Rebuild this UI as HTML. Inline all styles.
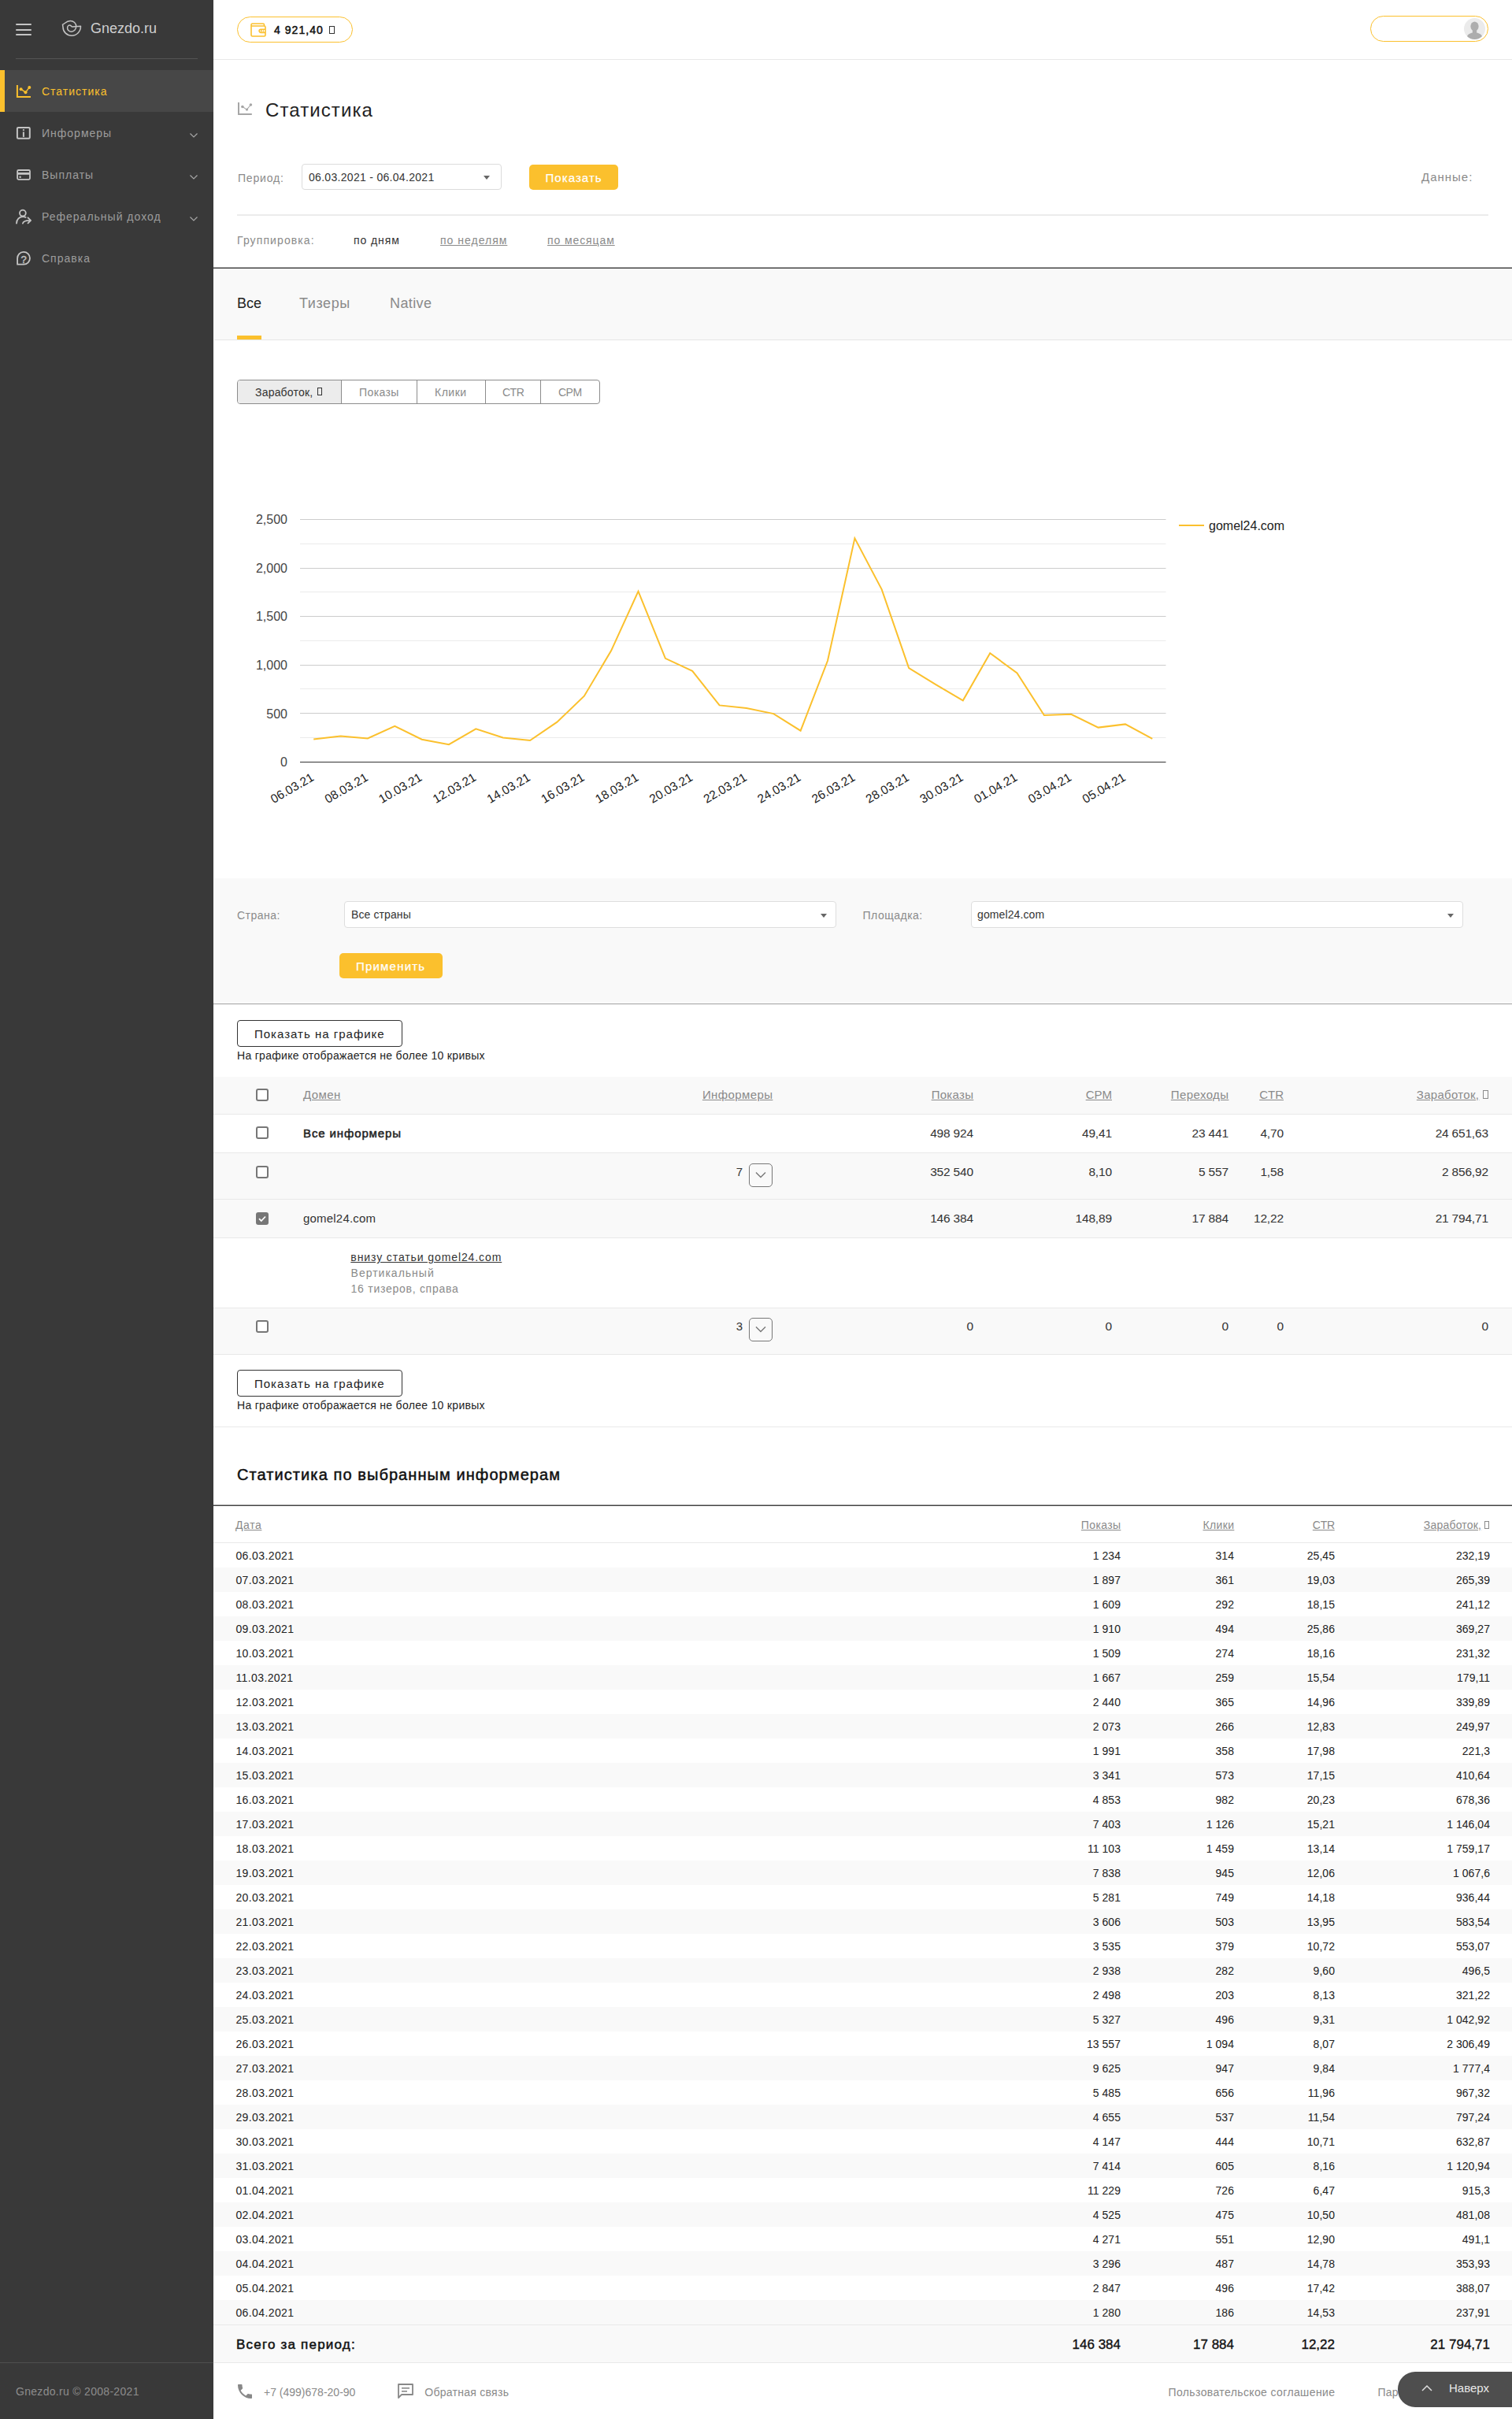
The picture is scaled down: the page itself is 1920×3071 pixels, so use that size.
<!DOCTYPE html>
<html><head><meta charset="utf-8">
<style>
*{box-sizing:border-box;margin:0;padding:0}
html,body{width:1920px;height:3071px;overflow:hidden;background:#fff;font-family:"Liberation Sans",sans-serif;color:#222}
.a{position:absolute;white-space:nowrap}
#sb{position:absolute;left:0;top:0;width:271px;height:3071px;background:#393939}
#main{position:absolute;left:271px;top:0;width:1649px;height:3071px;background:#fff}
.mi{position:absolute;left:0;width:271px;height:53px}
.mi .t{position:absolute;left:53px;top:1px;line-height:53px;font-size:14px;letter-spacing:1px;color:#9d9d9d}
.mi svg{position:absolute}
.chev{position:absolute;left:241px;width:10px;height:6px;margin-top:2px}
.lbl{color:#8a8a8a}
.und{text-decoration:underline}
</style></head><body>
<div id="sb">
  <!-- hamburger -->
  <div class="a" style="left:20px;top:30px;width:20px;height:2.2px;background:#c4c4c4;border-radius:1px"></div>
  <div class="a" style="left:20px;top:36.5px;width:20px;height:2.2px;background:#c4c4c4;border-radius:1px"></div>
  <div class="a" style="left:20px;top:42.7px;width:20px;height:2.2px;background:#c4c4c4;border-radius:1px"></div>
  <!-- logo -->
  <svg class="a" style="left:70px;top:18px" width="40" height="36" viewBox="0 0 40 36"><path d="M9.5 13.2 C12 12.5 14 8.5 19.3 8.5 C23.5 8.5 26.7 11.5 26.7 15.5 C26.7 19.5 23.8 22.2 20.6 22.2 C17.8 22.2 15.6 20 15.6 17.5 C15.6 15.5 17 14 18.5 14 C20 14 20.8 15.9 21.7 15.9 L32.5 15.3 C32.5 22 27.5 27.2 21.2 27.2 C15 27.2 10 22.5 10 16.4 Z" fill="none" stroke="#c4c4c4" stroke-width="1.5" stroke-linejoin="round"/></svg>
  <div class="a" style="left:115px;top:24px;font-size:18px;line-height:24px;color:#cfcfcf;letter-spacing:0px">Gnezdo.ru</div>
  <div class="a" style="left:20px;top:74px;width:231px;height:1px;background:#555"></div>

  <div class="mi" style="top:89px;background:#474747">
    <div class="a" style="left:0;top:0;width:6px;height:53px;background:#fbc02d"></div>
    
    <div class="t" style="color:#fbc02d">Статистика</div>
  </div>
  <div class="mi" style="top:142px">
    
    <div class="t">Информеры</div>
    <svg class="chev" style="top:25px" viewBox="0 0 10 6"><path d="M0.5 0.5 L5 5 L9.5 0.5" fill="none" stroke="#a8a8a8" stroke-width="1.15"/></svg>
  </div>
  <div class="mi" style="top:195px">
    
    <div class="t">Выплаты</div>
    <svg class="chev" style="top:25px" viewBox="0 0 10 6"><path d="M0.5 0.5 L5 5 L9.5 0.5" fill="none" stroke="#a8a8a8" stroke-width="1.15"/></svg>
  </div>
  <div class="mi" style="top:248px">
    
    <div class="t">Реферальный доход</div>
    <svg class="chev" style="top:25px" viewBox="0 0 10 6"><path d="M0.5 0.5 L5 5 L9.5 0.5" fill="none" stroke="#a8a8a8" stroke-width="1.15"/></svg>
  </div>
  <div class="mi" style="top:301px">
    
    <div class="t">Справка</div>
  </div>


  <svg class="a" style="left:14px;top:100px" width="30" height="30" viewBox="14 100 30 30"><path d="M21.9 107.9 V122.9 H39" fill="none" stroke="#fbc02d" stroke-width="2"/><polyline points="26.6,113.2 32.5,117.2 37.3,110.9" fill="none" stroke="#fbc02d" stroke-width="1.4"/><circle cx="26.6" cy="113.2" r="2" fill="#fbc02d"/><circle cx="32.5" cy="117.2" r="2" fill="#fbc02d"/><circle cx="37.3" cy="110.9" r="2" fill="#fbc02d"/></svg>
  <svg class="a" style="left:14px;top:150px" width="30" height="30" viewBox="14 150 30 30"><rect x="21.9" y="162" width="15.9" height="13.7" rx="1.3" fill="none" stroke="#c4c4c4" stroke-width="2"/><rect x="28.9" y="164.1" width="2" height="1.8" fill="#c4c4c4"/><rect x="28.9" y="167.4" width="2" height="6.5" fill="#c4c4c4"/></svg>
  <svg class="a" style="left:14px;top:205px" width="30" height="30" viewBox="14 205 30 30"><rect x="22.1" y="216" width="15.9" height="11.8" rx="1.5" fill="none" stroke="#c4c4c4" stroke-width="1.8"/><rect x="22" y="219" width="16" height="2.8" fill="#c4c4c4"/><circle cx="25.6" cy="224.7" r="1.2" fill="#c4c4c4"/></svg>
  <svg class="a" style="left:14px;top:258px" width="30" height="30" viewBox="14 258 30 30"><circle cx="28.9" cy="270.6" r="3.9" fill="none" stroke="#c4c4c4" stroke-width="1.8"/><path d="M21 283.6 C21 278.3 24.6 275.2 29.3 275.2 C30.6 275.2 31.6 275.4 32.6 275.8" fill="none" stroke="#c4c4c4" stroke-width="1.8" stroke-linecap="round"/><path d="M28.9 283.6 C29.6 280.6 33.2 279.6 38.6 279.8 M35.5 276.3 L39.1 279.8 L35.5 283.3" fill="none" stroke="#c4c4c4" stroke-width="1.8" stroke-linecap="round" stroke-linejoin="round"/></svg>
  <svg class="a" style="left:14px;top:312px" width="30" height="30" viewBox="14 312 30 30"><path d="M22.1 335.7 V328 A7.95 7.95 0 1 1 30.05 335.7 Z" fill="none" stroke="#c4c4c4" stroke-width="1.8" stroke-linejoin="round"/><text x="30.1" y="333.6" font-size="13" text-anchor="middle" fill="#c4c4c4" stroke="#c4c4c4" stroke-width="0.4" font-family="Liberation Sans">?</text></svg>
  <div class="a" style="left:0;top:2999px;width:271px;height:1px;background:#4f4f4f"></div>
  <div class="a" style="left:20px;top:3027px;font-size:14px;line-height:18px;color:#8d8d8d;letter-spacing:0.3px">Gnezdo.ru © 2008-2021</div>
</div>

<div id="main">
  <!-- header -->
  <div class="a" style="left:30px;top:21px;width:147px;height:33px;border:1px solid #fbc02d;border-radius:17px"></div>
  <svg class="a" style="left:47px;top:29px" width="20" height="18" viewBox="0 0 20 18"><path d="M2.5 1 H16 A1.5 1.5 0 0 1 17.5 2.5 V3.5 M1 4 H17.5 A1.5 1.5 0 0 1 19 5.5 V15.5 A1.5 1.5 0 0 1 17.5 17 H2.5 A1.5 1.5 0 0 1 1 15.5 V2.5 A1.5 1.5 0 0 1 2.5 1" fill="none" stroke="#fbc02d" stroke-width="1.6"/><path d="M19 8.2 H13.2 A2.1 2.1 0 0 0 13.2 12.4 H19" fill="none" stroke="#fbc02d" stroke-width="1.6"/><circle cx="13.9" cy="10.3" r="0.9" fill="none" stroke="#fbc02d" stroke-width="1"/><rect x="16" y="9.3" width="1" height="2" fill="#fbc02d"/></svg>
  <div class="a" style="left:77px;top:30px;font-size:14px;line-height:16px;letter-spacing:1.05px;color:#111;-webkit-text-stroke:0.5px #111">4 921,40</div>
  <div class="a" style="left:147px;top:33px;width:7px;height:10px;border:1px solid #333"></div>

  <div class="a" style="left:1469px;top:20px;width:150px;height:33px;border:1px solid #fbc02d;border-radius:17px"></div>
  <svg class="a" style="left:1588px;top:23px" width="27" height="27" viewBox="0 0 27 27"><defs><clipPath id="av"><circle cx="13.5" cy="13.5" r="13.5"/></clipPath></defs><circle cx="13.5" cy="13.5" r="13.5" fill="#ebebeb"/><g clip-path="url(#av)" fill="#adadad"><ellipse cx="13.5" cy="10.6" rx="5.1" ry="6"/><rect x="10.8" y="13" width="5.4" height="7"/><ellipse cx="13.5" cy="25" rx="10.2" ry="6.8"/></g></svg>
  <div class="a" style="left:0;top:75px;width:1649px;height:1px;background:#e8e8e8"></div>

  <!-- title -->
  <svg class="a" style="left:25px;top:124px" width="30" height="28" viewBox="296 124 30 28"><path d="M303 130 V144.9 H319.8" fill="none" stroke="#a6a6a6" stroke-width="2"/><polyline points="307.9,135.5 313.5,139.1 318.4,133" fill="none" stroke="#a6a6a6" stroke-width="1.1"/><circle cx="307.9" cy="135.5" r="1.8" fill="#a6a6a6"/><circle cx="313.5" cy="139.1" r="1.6" fill="#a6a6a6"/><circle cx="318.4" cy="133" r="1.8" fill="#a6a6a6"/></svg>
  <div class="a" style="left:66px;top:125.5px;font-size:24px;line-height:28px;letter-spacing:1.1px;color:#222">Статистика</div>

  <!-- period -->
  <div class="a lbl" style="left:31px;top:217px;font-size:14px;line-height:18px;letter-spacing:0.8px">Период:</div>
  <div class="a" style="left:112px;top:208px;width:254px;height:33px;border:1px solid #dcdcdc;border-radius:4px;background:#fff"></div>
  <div class="a" style="left:121px;top:216px;font-size:14px;line-height:18px;letter-spacing:0.3px;color:#333">06.03.2021 - 06.04.2021</div>
  <div class="a" style="left:343px;top:223px;width:0;height:0;border-left:4.5px solid transparent;border-right:4.5px solid transparent;border-top:5px solid #666"></div>
  <div class="a" style="left:401px;top:209px;width:113px;height:32px;border-radius:5px;background:#fbc02d"></div>
  <div class="a" style="left:421.5px;top:216.5px;font-size:15px;line-height:18px;letter-spacing:1.05px;color:#fff;-webkit-text-stroke:0.25px #fff">Показать</div>
  <div class="a lbl" style="left:1534px;top:216px;font-size:15px;line-height:18px;letter-spacing:1px">Данные:</div>
  <div class="a" style="left:30px;top:272px;width:1589px;height:2px;background:#ececec"></div>

  <!-- grouping -->
  <div class="a lbl" style="left:30px;top:296px;font-size:14px;line-height:18px;letter-spacing:1.1px">Группировка:</div>
  <div class="a" style="left:178px;top:296px;font-size:14px;line-height:18px;letter-spacing:0.9px;color:#333">по дням</div>
  <div class="a lbl und" style="left:288px;top:296px;font-size:14px;line-height:18px;letter-spacing:1px">по неделям</div>
  <div class="a lbl und" style="left:424px;top:296px;font-size:14px;line-height:18px;letter-spacing:0.9px">по месяцам</div>

  <div class="a" style="left:0;top:339px;width:1649px;height:1px;background:#a0a0a0"></div><div class="a" style="left:0;top:340px;width:1649px;height:1px;background:#444"></div>

  <!-- tabs -->
  <div class="a" style="left:1px;top:342px;width:1648px;height:90px;background:#f9f9f9;border-bottom:1px solid #e6e6e6"></div>
  <div class="a" style="left:30px;top:374px;font-size:18px;line-height:22px;color:#222">Все</div>
  <div class="a" style="left:109px;top:374px;font-size:18px;line-height:22px;letter-spacing:0.6px;color:#8a8a8a">Тизеры</div>
  <div class="a" style="left:224px;top:374px;font-size:18px;line-height:22px;letter-spacing:0.4px;color:#8a8a8a">Native</div>
  <div class="a" style="left:30px;top:426px;width:31px;height:5px;background:#fbc02d"></div>

  <!-- metric buttons -->
  <div class="a" style="left:30px;top:482px;width:461px;height:31px;border:1px solid #8c8c8c;border-radius:4px;overflow:hidden">
    <div class="a" style="left:0;top:0;width:132px;height:29px;background:#ececec;border-right:1px solid #8c8c8c"></div>
    <div class="a" style="left:227px;top:0;width:1px;height:29px;background:#8c8c8c"></div>
    <div class="a" style="left:314px;top:0;width:1px;height:29px;background:#8c8c8c"></div>
    <div class="a" style="left:384px;top:0;width:1px;height:29px;background:#8c8c8c"></div>
  </div>
  <div class="a" style="left:53px;top:489px;font-size:14px;line-height:18px;letter-spacing:0.2px;color:#333">Заработок,</div>
  <div class="a" style="left:132px;top:492px;width:6px;height:10px;border:1px solid #333"></div>
  <div class="a" style="left:185px;top:489px;font-size:14px;line-height:18px;letter-spacing:0.4px;color:#8a8a8a">Показы</div>
  <div class="a" style="left:281px;top:489px;font-size:14px;line-height:18px;letter-spacing:0.5px;color:#8a8a8a">Клики</div>
  <div class="a" style="left:367px;top:489px;font-size:14px;line-height:18px;letter-spacing:-0.5px;color:#8a8a8a">CTR</div>
  <div class="a" style="left:438px;top:489px;font-size:14px;line-height:18px;letter-spacing:-0.5px;color:#8a8a8a">CPM</div>

<svg class="a" style="left:-271px;top:0" width="1920" height="1100" viewBox="0 0 1920 1100" font-family="Liberation Sans">
<rect x="381" y="936" width="1099.5" height="1" fill="#ebebeb"/>
<rect x="381" y="874" width="1099.5" height="1" fill="#ebebeb"/>
<rect x="381" y="813" width="1099.5" height="1" fill="#ebebeb"/>
<rect x="381" y="751" width="1099.5" height="1" fill="#ebebeb"/>
<rect x="381" y="690" width="1099.5" height="1" fill="#ebebeb"/>
<rect x="381" y="905" width="1099.5" height="1" fill="#cccccc"/>
<rect x="381" y="844" width="1099.5" height="1" fill="#cccccc"/>
<rect x="381" y="782" width="1099.5" height="1" fill="#cccccc"/>
<rect x="381" y="721" width="1099.5" height="1" fill="#cccccc"/>
<rect x="381" y="659" width="1099.5" height="1" fill="#cccccc"/>
<rect x="381" y="967" width="1099.5" height="1" fill="#333333"/>
<text x="365" y="973.0" font-size="16" text-anchor="end" fill="#444444">0</text>
<text x="365" y="911.5" font-size="16" text-anchor="end" fill="#444444">500</text>
<text x="365" y="849.9" font-size="16" text-anchor="end" fill="#444444">1,000</text>
<text x="365" y="788.4" font-size="16" text-anchor="end" fill="#444444">1,500</text>
<text x="365" y="726.8" font-size="16" text-anchor="end" fill="#444444">2,000</text>
<text x="365" y="665.3" font-size="16" text-anchor="end" fill="#444444">2,500</text>
<polyline points="398.2,938.6 432.5,934.5 466.9,937.5 501.3,921.8 535.6,938.7 570.0,945.2 604.3,925.4 638.7,936.4 673.1,940.0 707.4,916.7 741.8,883.7 776.1,826.1 810.5,750.7 844.9,835.8 879.2,851.9 913.6,895.4 947.9,899.1 982.3,906.1 1016.6,927.7 1051.0,838.8 1085.4,683.3 1119.7,748.4 1154.1,848.1 1188.4,869.1 1222.8,889.3 1257.2,829.2 1291.5,854.5 1325.9,908.0 1360.2,906.8 1394.6,923.6 1429.0,919.4 1463.3,937.9" fill="none" stroke="#fbc02d" stroke-width="2" stroke-linejoin="miter" stroke-miterlimit="10"/>
<text x="399.7" y="990" font-size="15.5" text-anchor="end" fill="#222222" transform="rotate(-30 399.7 990)">06.03.21</text>
<text x="468.4" y="990" font-size="15.5" text-anchor="end" fill="#222222" transform="rotate(-30 468.4 990)">08.03.21</text>
<text x="537.1" y="990" font-size="15.5" text-anchor="end" fill="#222222" transform="rotate(-30 537.1 990)">10.03.21</text>
<text x="605.8" y="990" font-size="15.5" text-anchor="end" fill="#222222" transform="rotate(-30 605.8 990)">12.03.21</text>
<text x="674.6" y="990" font-size="15.5" text-anchor="end" fill="#222222" transform="rotate(-30 674.6 990)">14.03.21</text>
<text x="743.3" y="990" font-size="15.5" text-anchor="end" fill="#222222" transform="rotate(-30 743.3 990)">16.03.21</text>
<text x="812.0" y="990" font-size="15.5" text-anchor="end" fill="#222222" transform="rotate(-30 812.0 990)">18.03.21</text>
<text x="880.7" y="990" font-size="15.5" text-anchor="end" fill="#222222" transform="rotate(-30 880.7 990)">20.03.21</text>
<text x="949.4" y="990" font-size="15.5" text-anchor="end" fill="#222222" transform="rotate(-30 949.4 990)">22.03.21</text>
<text x="1018.1" y="990" font-size="15.5" text-anchor="end" fill="#222222" transform="rotate(-30 1018.1 990)">24.03.21</text>
<text x="1086.9" y="990" font-size="15.5" text-anchor="end" fill="#222222" transform="rotate(-30 1086.9 990)">26.03.21</text>
<text x="1155.6" y="990" font-size="15.5" text-anchor="end" fill="#222222" transform="rotate(-30 1155.6 990)">28.03.21</text>
<text x="1224.3" y="990" font-size="15.5" text-anchor="end" fill="#222222" transform="rotate(-30 1224.3 990)">30.03.21</text>
<text x="1293.0" y="990" font-size="15.5" text-anchor="end" fill="#222222" transform="rotate(-30 1293.0 990)">01.04.21</text>
<text x="1361.7" y="990" font-size="15.5" text-anchor="end" fill="#222222" transform="rotate(-30 1361.7 990)">03.04.21</text>
<text x="1430.5" y="990" font-size="15.5" text-anchor="end" fill="#222222" transform="rotate(-30 1430.5 990)">05.04.21</text>
<rect x="1497" y="666" width="32" height="2" fill="#fbc02d"/>
<text x="1535" y="673" font-size="16" fill="#222222">gomel24.com</text>
</svg>
<div class="a" style="left:1px;top:1115px;width:1648px;height:158px;background:#f9f9f9"></div>
<div class="a" style="left:0px;top:1274px;width:1649px;height:1px;background:#9f9f9f"></div>
<div class="a" style="left:30.00px;top:1153.45px;font-size:14px;line-height:18px;color:#8a8a8a;letter-spacing:0.5px;">Страна:</div>
<div class="a" style="left:166px;top:1144px;width:625px;height:34px;background:#fff;border:1px solid #dedede;border-radius:4px"></div>
<div class="a" style="left:175.00px;top:1151.95px;font-size:14px;line-height:18px;color:#333;letter-spacing:0.1px;">Все страны</div>
<div class="a" style="left:771px;top:1160px;width:0px;height:0px;border-left:4.5px solid transparent;border-right:4.5px solid transparent;border-top:5px solid #666"></div>
<div class="a" style="left:824.50px;top:1153.45px;font-size:14px;line-height:18px;color:#8a8a8a;letter-spacing:0.5px;">Площадка:</div>
<div class="a" style="left:962px;top:1144px;width:625px;height:34px;background:#fff;border:1px solid #dedede;border-radius:4px"></div>
<div class="a" style="left:970.00px;top:1151.95px;font-size:14px;line-height:18px;color:#333;letter-spacing:0.1px;">gomel24.com</div>
<div class="a" style="left:1567px;top:1160px;width:0px;height:0px;border-left:4.5px solid transparent;border-right:4.5px solid transparent;border-top:5px solid #666"></div>
<div class="a" style="left:160px;top:1210px;width:131px;height:32px;background:#fbc02d;border-radius:5px"></div>
<div class="a" style="left:181.00px;top:1217.00px;font-size:15px;line-height:20px;color:#fff;letter-spacing:1.2px;-webkit-text-stroke:0.25px #fff">Применить</div>
<div class="a" style="left:30px;top:1295px;width:210px;height:34px;border:1.5px solid #333;border-radius:4px;background:#fff"></div>
<div class="a" style="left:52.00px;top:1302.80px;font-size:15px;line-height:20px;color:#222;letter-spacing:1.0px;">Показать на графике</div>
<div class="a" style="left:30.00px;top:1330.55px;font-size:14px;line-height:18px;color:#222;letter-spacing:0.3px;">На графике отображается не более 10 кривых</div>
<div class="a" style="left:0px;top:1367px;width:1649px;height:47px;background:#f9f9f9"></div>
<div class="a" style="left:0px;top:1414px;width:1649px;height:1px;background:#e9e9e9"></div>
<div class="a" style="left:54px;top:1382px;width:16px;height:16px;border:2px solid #777;border-radius:3px;background:#fff"></div>
<div class="a" style="left:114.00px;top:1379.80px;font-size:15px;line-height:20px;color:#8a8a8a;letter-spacing:0.4px;text-decoration:underline">Домен</div>
<div class="a" style="right:939.00px;top:1379.80px;font-size:15px;line-height:20px;color:#8a8a8a;letter-spacing:0.4px;margin-right:-0.4px;text-decoration:underline">Информеры</div>
<div class="a" style="right:684.00px;top:1379.80px;font-size:15px;line-height:20px;color:#8a8a8a;letter-spacing:0.3px;margin-right:-0.3px;text-decoration:underline">Показы</div>
<div class="a" style="right:508.00px;top:1379.80px;font-size:15px;line-height:20px;color:#8a8a8a;text-decoration:underline">CPM</div>
<div class="a" style="right:360.00px;top:1379.80px;font-size:15px;line-height:20px;color:#8a8a8a;letter-spacing:0.4px;margin-right:-0.4px;text-decoration:underline">Переходы</div>
<div class="a" style="right:290.00px;top:1379.80px;font-size:15px;line-height:20px;color:#8a8a8a;text-decoration:underline">CTR</div>
<div class="a" style="right:42.00px;top:1379.80px;font-size:15px;line-height:20px;color:#8a8a8a;letter-spacing:0.3px;margin-right:-0.3px;text-decoration:underline">Заработок,</div>
<div class="a" style="left:1612px;top:1384px;width:7px;height:11px;border:1px solid #8a8a8a"></div>
<div class="a" style="left:54px;top:1430px;width:16px;height:16px;border:2px solid #777;border-radius:3px;background:#fff"></div>
<div class="a" style="left:114.00px;top:1428.80px;font-size:15px;line-height:20px;color:#222;letter-spacing:0.88px;-webkit-text-stroke:0.5px #222">Все информеры</div>
<div class="a" style="right:684.00px;top:1428.63px;font-size:15.5px;line-height:20px;color:#333;letter-spacing:-0.2px;margin-right:0.2px;">498 924</div>
<div class="a" style="right:508.00px;top:1428.63px;font-size:15.5px;line-height:20px;color:#333;letter-spacing:-0.2px;margin-right:0.2px;">49,41</div>
<div class="a" style="right:360.00px;top:1428.63px;font-size:15.5px;line-height:20px;color:#333;letter-spacing:-0.2px;margin-right:0.2px;">23 441</div>
<div class="a" style="right:290.00px;top:1428.63px;font-size:15.5px;line-height:20px;color:#333;letter-spacing:-0.2px;margin-right:0.2px;">4,70</div>
<div class="a" style="right:30.00px;top:1428.63px;font-size:15.5px;line-height:20px;color:#333;letter-spacing:-0.2px;margin-right:0.2px;">24 651,63</div>
<div class="a" style="left:0px;top:1463px;width:1649px;height:1px;background:#e9e9e9"></div>
<div class="a" style="left:0px;top:1464px;width:1649px;height:58px;background:#f9f9f9"></div>
<div class="a" style="left:54px;top:1480px;width:16px;height:16px;border:2px solid #777;border-radius:3px;background:#fff"></div>
<div class="a" style="right:977.00px;top:1477.50px;font-size:15px;line-height:20px;color:#333;">7</div>
<div class="a" style="left:680px;top:1477px;width:30px;height:30px;border:1.5px solid #777;border-radius:5px"></div><svg class="a" style="left:680px;top:1477px" width="30" height="30" viewBox="0 0 30 30"><path d="M9 11.5 L15 17.5 L21 11.5" fill="none" stroke="#777" stroke-width="1.4"/></svg>
<div class="a" style="right:684.00px;top:1477.63px;font-size:15.5px;line-height:20px;color:#333;letter-spacing:-0.2px;margin-right:0.2px;">352 540</div>
<div class="a" style="right:508.00px;top:1477.63px;font-size:15.5px;line-height:20px;color:#333;letter-spacing:-0.2px;margin-right:0.2px;">8,10</div>
<div class="a" style="right:360.00px;top:1477.63px;font-size:15.5px;line-height:20px;color:#333;letter-spacing:-0.2px;margin-right:0.2px;">5 557</div>
<div class="a" style="right:290.00px;top:1477.63px;font-size:15.5px;line-height:20px;color:#333;letter-spacing:-0.2px;margin-right:0.2px;">1,58</div>
<div class="a" style="right:30.00px;top:1477.63px;font-size:15.5px;line-height:20px;color:#333;letter-spacing:-0.2px;margin-right:0.2px;">2 856,92</div>
<div class="a" style="left:0px;top:1522px;width:1649px;height:1px;background:#e9e9e9"></div>
<div class="a" style="left:0px;top:1523px;width:1649px;height:48px;background:#f9f9f9"></div>
<div class="a" style="left:54px;top:1539px;width:16px;height:16px;background:#777;border-radius:3px"></div><svg class="a" style="left:54px;top:1539px" width="16" height="16" viewBox="0 0 16 16"><path d="M4 8.2 L6.8 11 L12 5.5" fill="none" stroke="#fff" stroke-width="1.8"/></svg>
<div class="a" style="left:114.00px;top:1536.80px;font-size:15px;line-height:20px;color:#333;letter-spacing:0.2px;">gomel24.com</div>
<div class="a" style="right:684.00px;top:1536.63px;font-size:15.5px;line-height:20px;color:#333;letter-spacing:-0.2px;margin-right:0.2px;">146 384</div>
<div class="a" style="right:508.00px;top:1536.63px;font-size:15.5px;line-height:20px;color:#333;letter-spacing:-0.2px;margin-right:0.2px;">148,89</div>
<div class="a" style="right:360.00px;top:1536.63px;font-size:15.5px;line-height:20px;color:#333;letter-spacing:-0.2px;margin-right:0.2px;">17 884</div>
<div class="a" style="right:290.00px;top:1536.63px;font-size:15.5px;line-height:20px;color:#333;letter-spacing:-0.2px;margin-right:0.2px;">12,22</div>
<div class="a" style="right:30.00px;top:1536.63px;font-size:15.5px;line-height:20px;color:#333;letter-spacing:-0.2px;margin-right:0.2px;">21 794,71</div>
<div class="a" style="left:0px;top:1571px;width:1649px;height:1px;background:#e9e9e9"></div>
<div class="a" style="left:174.30px;top:1587.15px;font-size:14px;line-height:18px;color:#333;letter-spacing:0.9px;text-decoration:underline">внизу статьи gomel24.com</div>
<div class="a" style="left:174.60px;top:1606.75px;font-size:14px;line-height:18px;color:#8a8a8a;letter-spacing:1.0px;">Вертикальный</div>
<div class="a" style="left:174.60px;top:1626.55px;font-size:14px;line-height:18px;color:#8a8a8a;letter-spacing:0.73px;">16 тизеров, справа</div>
<div class="a" style="left:0px;top:1660px;width:1649px;height:1px;background:#e9e9e9"></div>
<div class="a" style="left:0px;top:1661px;width:1649px;height:58px;background:#f9f9f9"></div>
<div class="a" style="left:54px;top:1676px;width:16px;height:16px;border:2px solid #777;border-radius:3px;background:#fff"></div>
<div class="a" style="right:977.00px;top:1673.80px;font-size:15px;line-height:20px;color:#333;">3</div>
<div class="a" style="left:680px;top:1673px;width:30px;height:30px;border:1.5px solid #777;border-radius:5px"></div><svg class="a" style="left:680px;top:1673px" width="30" height="30" viewBox="0 0 30 30"><path d="M9 11.5 L15 17.5 L21 11.5" fill="none" stroke="#777" stroke-width="1.4"/></svg>
<div class="a" style="right:684.00px;top:1674.13px;font-size:15.5px;line-height:20px;color:#333;letter-spacing:-0.2px;margin-right:0.2px;">0</div>
<div class="a" style="right:508.00px;top:1674.13px;font-size:15.5px;line-height:20px;color:#333;letter-spacing:-0.2px;margin-right:0.2px;">0</div>
<div class="a" style="right:360.00px;top:1674.13px;font-size:15.5px;line-height:20px;color:#333;letter-spacing:-0.2px;margin-right:0.2px;">0</div>
<div class="a" style="right:290.00px;top:1674.13px;font-size:15.5px;line-height:20px;color:#333;letter-spacing:-0.2px;margin-right:0.2px;">0</div>
<div class="a" style="right:30.00px;top:1674.13px;font-size:15.5px;line-height:20px;color:#333;letter-spacing:-0.2px;margin-right:0.2px;">0</div>
<div class="a" style="left:0px;top:1719px;width:1649px;height:1px;background:#e9e9e9"></div>
<div class="a" style="left:30px;top:1739px;width:210px;height:34px;border:1.5px solid #333;border-radius:4px;background:#fff"></div>
<div class="a" style="left:52.00px;top:1746.80px;font-size:15px;line-height:20px;color:#222;letter-spacing:1.0px;">Показать на графике</div>
<div class="a" style="left:30.00px;top:1774.55px;font-size:14px;line-height:18px;color:#222;letter-spacing:0.3px;">На графике отображается не более 10 кривых</div>
<div class="a" style="left:0px;top:1811px;width:1649px;height:1px;background:#e9e9e9"></div>
<div class="a" style="left:30.00px;top:1859.07px;font-size:20px;line-height:26px;color:#111;letter-spacing:1.08px;-webkit-text-stroke:0.5px #111">Статистика по выбранным информерам</div>
<div class="a" style="left:0px;top:1910px;width:1649px;height:1px;background:#a0a0a0"></div>
<div class="a" style="left:0px;top:1911px;width:1649px;height:1px;background:#444"></div>
<div class="a" style="left:28.00px;top:1926.65px;font-size:14px;line-height:18px;color:#8a8a8a;letter-spacing:0.6px;text-decoration:underline">Дата</div>
<div class="a" style="right:497.00px;top:1926.65px;font-size:14px;line-height:18px;color:#8a8a8a;letter-spacing:0.35px;margin-right:-0.35px;text-decoration:underline">Показы</div>
<div class="a" style="right:353.00px;top:1926.65px;font-size:14px;line-height:18px;color:#8a8a8a;letter-spacing:0.35px;margin-right:-0.35px;text-decoration:underline">Клики</div>
<div class="a" style="right:225.00px;top:1926.65px;font-size:14px;line-height:18px;color:#8a8a8a;letter-spacing:-0.3px;margin-right:0.3px;text-decoration:underline">CTR</div>
<div class="a" style="right:39.00px;top:1926.65px;font-size:14px;line-height:18px;color:#8a8a8a;letter-spacing:0.2px;margin-right:-0.2px;text-decoration:underline">Заработок,</div>
<div class="a" style="left:1614px;top:1931px;width:6px;height:10px;border:1px solid #8a8a8a"></div>
<div class="a" style="left:0px;top:1958px;width:1649px;height:1px;background:#e9e9e9"></div>
<div class="a" style="left:28.40px;top:1965.75px;font-size:14px;line-height:18px;color:#222;letter-spacing:0.4px;">06.03.2021</div>
<div class="a" style="right:497.00px;top:1965.75px;font-size:14px;line-height:18px;color:#222;letter-spacing:0.05px;margin-right:-0.05px;">1 234</div>
<div class="a" style="right:353.00px;top:1965.75px;font-size:14px;line-height:18px;color:#222;letter-spacing:0.05px;margin-right:-0.05px;">314</div>
<div class="a" style="right:225.00px;top:1965.75px;font-size:14px;line-height:18px;color:#222;letter-spacing:0.05px;margin-right:-0.05px;">25,45</div>
<div class="a" style="right:28.00px;top:1965.75px;font-size:14px;line-height:18px;color:#222;letter-spacing:0.05px;margin-right:-0.05px;">232,19</div>
<div class="a" style="left:0px;top:1990px;width:1649px;height:31px;background:#f9f9f9"></div>
<div class="a" style="left:28.40px;top:1996.75px;font-size:14px;line-height:18px;color:#222;letter-spacing:0.4px;">07.03.2021</div>
<div class="a" style="right:497.00px;top:1996.75px;font-size:14px;line-height:18px;color:#222;letter-spacing:0.05px;margin-right:-0.05px;">1 897</div>
<div class="a" style="right:353.00px;top:1996.75px;font-size:14px;line-height:18px;color:#222;letter-spacing:0.05px;margin-right:-0.05px;">361</div>
<div class="a" style="right:225.00px;top:1996.75px;font-size:14px;line-height:18px;color:#222;letter-spacing:0.05px;margin-right:-0.05px;">19,03</div>
<div class="a" style="right:28.00px;top:1996.75px;font-size:14px;line-height:18px;color:#222;letter-spacing:0.05px;margin-right:-0.05px;">265,39</div>
<div class="a" style="left:28.40px;top:2027.75px;font-size:14px;line-height:18px;color:#222;letter-spacing:0.4px;">08.03.2021</div>
<div class="a" style="right:497.00px;top:2027.75px;font-size:14px;line-height:18px;color:#222;letter-spacing:0.05px;margin-right:-0.05px;">1 609</div>
<div class="a" style="right:353.00px;top:2027.75px;font-size:14px;line-height:18px;color:#222;letter-spacing:0.05px;margin-right:-0.05px;">292</div>
<div class="a" style="right:225.00px;top:2027.75px;font-size:14px;line-height:18px;color:#222;letter-spacing:0.05px;margin-right:-0.05px;">18,15</div>
<div class="a" style="right:28.00px;top:2027.75px;font-size:14px;line-height:18px;color:#222;letter-spacing:0.05px;margin-right:-0.05px;">241,12</div>
<div class="a" style="left:0px;top:2052px;width:1649px;height:31px;background:#f9f9f9"></div>
<div class="a" style="left:28.40px;top:2058.75px;font-size:14px;line-height:18px;color:#222;letter-spacing:0.4px;">09.03.2021</div>
<div class="a" style="right:497.00px;top:2058.75px;font-size:14px;line-height:18px;color:#222;letter-spacing:0.05px;margin-right:-0.05px;">1 910</div>
<div class="a" style="right:353.00px;top:2058.75px;font-size:14px;line-height:18px;color:#222;letter-spacing:0.05px;margin-right:-0.05px;">494</div>
<div class="a" style="right:225.00px;top:2058.75px;font-size:14px;line-height:18px;color:#222;letter-spacing:0.05px;margin-right:-0.05px;">25,86</div>
<div class="a" style="right:28.00px;top:2058.75px;font-size:14px;line-height:18px;color:#222;letter-spacing:0.05px;margin-right:-0.05px;">369,27</div>
<div class="a" style="left:28.40px;top:2089.75px;font-size:14px;line-height:18px;color:#222;letter-spacing:0.4px;">10.03.2021</div>
<div class="a" style="right:497.00px;top:2089.75px;font-size:14px;line-height:18px;color:#222;letter-spacing:0.05px;margin-right:-0.05px;">1 509</div>
<div class="a" style="right:353.00px;top:2089.75px;font-size:14px;line-height:18px;color:#222;letter-spacing:0.05px;margin-right:-0.05px;">274</div>
<div class="a" style="right:225.00px;top:2089.75px;font-size:14px;line-height:18px;color:#222;letter-spacing:0.05px;margin-right:-0.05px;">18,16</div>
<div class="a" style="right:28.00px;top:2089.75px;font-size:14px;line-height:18px;color:#222;letter-spacing:0.05px;margin-right:-0.05px;">231,32</div>
<div class="a" style="left:0px;top:2114px;width:1649px;height:31px;background:#f9f9f9"></div>
<div class="a" style="left:28.40px;top:2120.75px;font-size:14px;line-height:18px;color:#222;letter-spacing:0.4px;">11.03.2021</div>
<div class="a" style="right:497.00px;top:2120.75px;font-size:14px;line-height:18px;color:#222;letter-spacing:0.05px;margin-right:-0.05px;">1 667</div>
<div class="a" style="right:353.00px;top:2120.75px;font-size:14px;line-height:18px;color:#222;letter-spacing:0.05px;margin-right:-0.05px;">259</div>
<div class="a" style="right:225.00px;top:2120.75px;font-size:14px;line-height:18px;color:#222;letter-spacing:0.05px;margin-right:-0.05px;">15,54</div>
<div class="a" style="right:28.00px;top:2120.75px;font-size:14px;line-height:18px;color:#222;letter-spacing:0.05px;margin-right:-0.05px;">179,11</div>
<div class="a" style="left:28.40px;top:2151.75px;font-size:14px;line-height:18px;color:#222;letter-spacing:0.4px;">12.03.2021</div>
<div class="a" style="right:497.00px;top:2151.75px;font-size:14px;line-height:18px;color:#222;letter-spacing:0.05px;margin-right:-0.05px;">2 440</div>
<div class="a" style="right:353.00px;top:2151.75px;font-size:14px;line-height:18px;color:#222;letter-spacing:0.05px;margin-right:-0.05px;">365</div>
<div class="a" style="right:225.00px;top:2151.75px;font-size:14px;line-height:18px;color:#222;letter-spacing:0.05px;margin-right:-0.05px;">14,96</div>
<div class="a" style="right:28.00px;top:2151.75px;font-size:14px;line-height:18px;color:#222;letter-spacing:0.05px;margin-right:-0.05px;">339,89</div>
<div class="a" style="left:0px;top:2176px;width:1649px;height:31px;background:#f9f9f9"></div>
<div class="a" style="left:28.40px;top:2182.75px;font-size:14px;line-height:18px;color:#222;letter-spacing:0.4px;">13.03.2021</div>
<div class="a" style="right:497.00px;top:2182.75px;font-size:14px;line-height:18px;color:#222;letter-spacing:0.05px;margin-right:-0.05px;">2 073</div>
<div class="a" style="right:353.00px;top:2182.75px;font-size:14px;line-height:18px;color:#222;letter-spacing:0.05px;margin-right:-0.05px;">266</div>
<div class="a" style="right:225.00px;top:2182.75px;font-size:14px;line-height:18px;color:#222;letter-spacing:0.05px;margin-right:-0.05px;">12,83</div>
<div class="a" style="right:28.00px;top:2182.75px;font-size:14px;line-height:18px;color:#222;letter-spacing:0.05px;margin-right:-0.05px;">249,97</div>
<div class="a" style="left:28.40px;top:2213.75px;font-size:14px;line-height:18px;color:#222;letter-spacing:0.4px;">14.03.2021</div>
<div class="a" style="right:497.00px;top:2213.75px;font-size:14px;line-height:18px;color:#222;letter-spacing:0.05px;margin-right:-0.05px;">1 991</div>
<div class="a" style="right:353.00px;top:2213.75px;font-size:14px;line-height:18px;color:#222;letter-spacing:0.05px;margin-right:-0.05px;">358</div>
<div class="a" style="right:225.00px;top:2213.75px;font-size:14px;line-height:18px;color:#222;letter-spacing:0.05px;margin-right:-0.05px;">17,98</div>
<div class="a" style="right:28.00px;top:2213.75px;font-size:14px;line-height:18px;color:#222;letter-spacing:0.05px;margin-right:-0.05px;">221,3</div>
<div class="a" style="left:0px;top:2238px;width:1649px;height:31px;background:#f9f9f9"></div>
<div class="a" style="left:28.40px;top:2244.75px;font-size:14px;line-height:18px;color:#222;letter-spacing:0.4px;">15.03.2021</div>
<div class="a" style="right:497.00px;top:2244.75px;font-size:14px;line-height:18px;color:#222;letter-spacing:0.05px;margin-right:-0.05px;">3 341</div>
<div class="a" style="right:353.00px;top:2244.75px;font-size:14px;line-height:18px;color:#222;letter-spacing:0.05px;margin-right:-0.05px;">573</div>
<div class="a" style="right:225.00px;top:2244.75px;font-size:14px;line-height:18px;color:#222;letter-spacing:0.05px;margin-right:-0.05px;">17,15</div>
<div class="a" style="right:28.00px;top:2244.75px;font-size:14px;line-height:18px;color:#222;letter-spacing:0.05px;margin-right:-0.05px;">410,64</div>
<div class="a" style="left:28.40px;top:2275.75px;font-size:14px;line-height:18px;color:#222;letter-spacing:0.4px;">16.03.2021</div>
<div class="a" style="right:497.00px;top:2275.75px;font-size:14px;line-height:18px;color:#222;letter-spacing:0.05px;margin-right:-0.05px;">4 853</div>
<div class="a" style="right:353.00px;top:2275.75px;font-size:14px;line-height:18px;color:#222;letter-spacing:0.05px;margin-right:-0.05px;">982</div>
<div class="a" style="right:225.00px;top:2275.75px;font-size:14px;line-height:18px;color:#222;letter-spacing:0.05px;margin-right:-0.05px;">20,23</div>
<div class="a" style="right:28.00px;top:2275.75px;font-size:14px;line-height:18px;color:#222;letter-spacing:0.05px;margin-right:-0.05px;">678,36</div>
<div class="a" style="left:0px;top:2300px;width:1649px;height:31px;background:#f9f9f9"></div>
<div class="a" style="left:28.40px;top:2306.75px;font-size:14px;line-height:18px;color:#222;letter-spacing:0.4px;">17.03.2021</div>
<div class="a" style="right:497.00px;top:2306.75px;font-size:14px;line-height:18px;color:#222;letter-spacing:0.05px;margin-right:-0.05px;">7 403</div>
<div class="a" style="right:353.00px;top:2306.75px;font-size:14px;line-height:18px;color:#222;letter-spacing:0.05px;margin-right:-0.05px;">1 126</div>
<div class="a" style="right:225.00px;top:2306.75px;font-size:14px;line-height:18px;color:#222;letter-spacing:0.05px;margin-right:-0.05px;">15,21</div>
<div class="a" style="right:28.00px;top:2306.75px;font-size:14px;line-height:18px;color:#222;letter-spacing:0.05px;margin-right:-0.05px;">1 146,04</div>
<div class="a" style="left:28.40px;top:2337.75px;font-size:14px;line-height:18px;color:#222;letter-spacing:0.4px;">18.03.2021</div>
<div class="a" style="right:497.00px;top:2337.75px;font-size:14px;line-height:18px;color:#222;letter-spacing:0.05px;margin-right:-0.05px;">11 103</div>
<div class="a" style="right:353.00px;top:2337.75px;font-size:14px;line-height:18px;color:#222;letter-spacing:0.05px;margin-right:-0.05px;">1 459</div>
<div class="a" style="right:225.00px;top:2337.75px;font-size:14px;line-height:18px;color:#222;letter-spacing:0.05px;margin-right:-0.05px;">13,14</div>
<div class="a" style="right:28.00px;top:2337.75px;font-size:14px;line-height:18px;color:#222;letter-spacing:0.05px;margin-right:-0.05px;">1 759,17</div>
<div class="a" style="left:0px;top:2362px;width:1649px;height:31px;background:#f9f9f9"></div>
<div class="a" style="left:28.40px;top:2368.75px;font-size:14px;line-height:18px;color:#222;letter-spacing:0.4px;">19.03.2021</div>
<div class="a" style="right:497.00px;top:2368.75px;font-size:14px;line-height:18px;color:#222;letter-spacing:0.05px;margin-right:-0.05px;">7 838</div>
<div class="a" style="right:353.00px;top:2368.75px;font-size:14px;line-height:18px;color:#222;letter-spacing:0.05px;margin-right:-0.05px;">945</div>
<div class="a" style="right:225.00px;top:2368.75px;font-size:14px;line-height:18px;color:#222;letter-spacing:0.05px;margin-right:-0.05px;">12,06</div>
<div class="a" style="right:28.00px;top:2368.75px;font-size:14px;line-height:18px;color:#222;letter-spacing:0.05px;margin-right:-0.05px;">1 067,6</div>
<div class="a" style="left:28.40px;top:2399.75px;font-size:14px;line-height:18px;color:#222;letter-spacing:0.4px;">20.03.2021</div>
<div class="a" style="right:497.00px;top:2399.75px;font-size:14px;line-height:18px;color:#222;letter-spacing:0.05px;margin-right:-0.05px;">5 281</div>
<div class="a" style="right:353.00px;top:2399.75px;font-size:14px;line-height:18px;color:#222;letter-spacing:0.05px;margin-right:-0.05px;">749</div>
<div class="a" style="right:225.00px;top:2399.75px;font-size:14px;line-height:18px;color:#222;letter-spacing:0.05px;margin-right:-0.05px;">14,18</div>
<div class="a" style="right:28.00px;top:2399.75px;font-size:14px;line-height:18px;color:#222;letter-spacing:0.05px;margin-right:-0.05px;">936,44</div>
<div class="a" style="left:0px;top:2424px;width:1649px;height:31px;background:#f9f9f9"></div>
<div class="a" style="left:28.40px;top:2430.75px;font-size:14px;line-height:18px;color:#222;letter-spacing:0.4px;">21.03.2021</div>
<div class="a" style="right:497.00px;top:2430.75px;font-size:14px;line-height:18px;color:#222;letter-spacing:0.05px;margin-right:-0.05px;">3 606</div>
<div class="a" style="right:353.00px;top:2430.75px;font-size:14px;line-height:18px;color:#222;letter-spacing:0.05px;margin-right:-0.05px;">503</div>
<div class="a" style="right:225.00px;top:2430.75px;font-size:14px;line-height:18px;color:#222;letter-spacing:0.05px;margin-right:-0.05px;">13,95</div>
<div class="a" style="right:28.00px;top:2430.75px;font-size:14px;line-height:18px;color:#222;letter-spacing:0.05px;margin-right:-0.05px;">583,54</div>
<div class="a" style="left:28.40px;top:2461.75px;font-size:14px;line-height:18px;color:#222;letter-spacing:0.4px;">22.03.2021</div>
<div class="a" style="right:497.00px;top:2461.75px;font-size:14px;line-height:18px;color:#222;letter-spacing:0.05px;margin-right:-0.05px;">3 535</div>
<div class="a" style="right:353.00px;top:2461.75px;font-size:14px;line-height:18px;color:#222;letter-spacing:0.05px;margin-right:-0.05px;">379</div>
<div class="a" style="right:225.00px;top:2461.75px;font-size:14px;line-height:18px;color:#222;letter-spacing:0.05px;margin-right:-0.05px;">10,72</div>
<div class="a" style="right:28.00px;top:2461.75px;font-size:14px;line-height:18px;color:#222;letter-spacing:0.05px;margin-right:-0.05px;">553,07</div>
<div class="a" style="left:0px;top:2486px;width:1649px;height:31px;background:#f9f9f9"></div>
<div class="a" style="left:28.40px;top:2492.75px;font-size:14px;line-height:18px;color:#222;letter-spacing:0.4px;">23.03.2021</div>
<div class="a" style="right:497.00px;top:2492.75px;font-size:14px;line-height:18px;color:#222;letter-spacing:0.05px;margin-right:-0.05px;">2 938</div>
<div class="a" style="right:353.00px;top:2492.75px;font-size:14px;line-height:18px;color:#222;letter-spacing:0.05px;margin-right:-0.05px;">282</div>
<div class="a" style="right:225.00px;top:2492.75px;font-size:14px;line-height:18px;color:#222;letter-spacing:0.05px;margin-right:-0.05px;">9,60</div>
<div class="a" style="right:28.00px;top:2492.75px;font-size:14px;line-height:18px;color:#222;letter-spacing:0.05px;margin-right:-0.05px;">496,5</div>
<div class="a" style="left:28.40px;top:2523.75px;font-size:14px;line-height:18px;color:#222;letter-spacing:0.4px;">24.03.2021</div>
<div class="a" style="right:497.00px;top:2523.75px;font-size:14px;line-height:18px;color:#222;letter-spacing:0.05px;margin-right:-0.05px;">2 498</div>
<div class="a" style="right:353.00px;top:2523.75px;font-size:14px;line-height:18px;color:#222;letter-spacing:0.05px;margin-right:-0.05px;">203</div>
<div class="a" style="right:225.00px;top:2523.75px;font-size:14px;line-height:18px;color:#222;letter-spacing:0.05px;margin-right:-0.05px;">8,13</div>
<div class="a" style="right:28.00px;top:2523.75px;font-size:14px;line-height:18px;color:#222;letter-spacing:0.05px;margin-right:-0.05px;">321,22</div>
<div class="a" style="left:0px;top:2548px;width:1649px;height:31px;background:#f9f9f9"></div>
<div class="a" style="left:28.40px;top:2554.75px;font-size:14px;line-height:18px;color:#222;letter-spacing:0.4px;">25.03.2021</div>
<div class="a" style="right:497.00px;top:2554.75px;font-size:14px;line-height:18px;color:#222;letter-spacing:0.05px;margin-right:-0.05px;">5 327</div>
<div class="a" style="right:353.00px;top:2554.75px;font-size:14px;line-height:18px;color:#222;letter-spacing:0.05px;margin-right:-0.05px;">496</div>
<div class="a" style="right:225.00px;top:2554.75px;font-size:14px;line-height:18px;color:#222;letter-spacing:0.05px;margin-right:-0.05px;">9,31</div>
<div class="a" style="right:28.00px;top:2554.75px;font-size:14px;line-height:18px;color:#222;letter-spacing:0.05px;margin-right:-0.05px;">1 042,92</div>
<div class="a" style="left:28.40px;top:2585.75px;font-size:14px;line-height:18px;color:#222;letter-spacing:0.4px;">26.03.2021</div>
<div class="a" style="right:497.00px;top:2585.75px;font-size:14px;line-height:18px;color:#222;letter-spacing:0.05px;margin-right:-0.05px;">13 557</div>
<div class="a" style="right:353.00px;top:2585.75px;font-size:14px;line-height:18px;color:#222;letter-spacing:0.05px;margin-right:-0.05px;">1 094</div>
<div class="a" style="right:225.00px;top:2585.75px;font-size:14px;line-height:18px;color:#222;letter-spacing:0.05px;margin-right:-0.05px;">8,07</div>
<div class="a" style="right:28.00px;top:2585.75px;font-size:14px;line-height:18px;color:#222;letter-spacing:0.05px;margin-right:-0.05px;">2 306,49</div>
<div class="a" style="left:0px;top:2610px;width:1649px;height:31px;background:#f9f9f9"></div>
<div class="a" style="left:28.40px;top:2616.75px;font-size:14px;line-height:18px;color:#222;letter-spacing:0.4px;">27.03.2021</div>
<div class="a" style="right:497.00px;top:2616.75px;font-size:14px;line-height:18px;color:#222;letter-spacing:0.05px;margin-right:-0.05px;">9 625</div>
<div class="a" style="right:353.00px;top:2616.75px;font-size:14px;line-height:18px;color:#222;letter-spacing:0.05px;margin-right:-0.05px;">947</div>
<div class="a" style="right:225.00px;top:2616.75px;font-size:14px;line-height:18px;color:#222;letter-spacing:0.05px;margin-right:-0.05px;">9,84</div>
<div class="a" style="right:28.00px;top:2616.75px;font-size:14px;line-height:18px;color:#222;letter-spacing:0.05px;margin-right:-0.05px;">1 777,4</div>
<div class="a" style="left:28.40px;top:2647.75px;font-size:14px;line-height:18px;color:#222;letter-spacing:0.4px;">28.03.2021</div>
<div class="a" style="right:497.00px;top:2647.75px;font-size:14px;line-height:18px;color:#222;letter-spacing:0.05px;margin-right:-0.05px;">5 485</div>
<div class="a" style="right:353.00px;top:2647.75px;font-size:14px;line-height:18px;color:#222;letter-spacing:0.05px;margin-right:-0.05px;">656</div>
<div class="a" style="right:225.00px;top:2647.75px;font-size:14px;line-height:18px;color:#222;letter-spacing:0.05px;margin-right:-0.05px;">11,96</div>
<div class="a" style="right:28.00px;top:2647.75px;font-size:14px;line-height:18px;color:#222;letter-spacing:0.05px;margin-right:-0.05px;">967,32</div>
<div class="a" style="left:0px;top:2672px;width:1649px;height:31px;background:#f9f9f9"></div>
<div class="a" style="left:28.40px;top:2678.75px;font-size:14px;line-height:18px;color:#222;letter-spacing:0.4px;">29.03.2021</div>
<div class="a" style="right:497.00px;top:2678.75px;font-size:14px;line-height:18px;color:#222;letter-spacing:0.05px;margin-right:-0.05px;">4 655</div>
<div class="a" style="right:353.00px;top:2678.75px;font-size:14px;line-height:18px;color:#222;letter-spacing:0.05px;margin-right:-0.05px;">537</div>
<div class="a" style="right:225.00px;top:2678.75px;font-size:14px;line-height:18px;color:#222;letter-spacing:0.05px;margin-right:-0.05px;">11,54</div>
<div class="a" style="right:28.00px;top:2678.75px;font-size:14px;line-height:18px;color:#222;letter-spacing:0.05px;margin-right:-0.05px;">797,24</div>
<div class="a" style="left:28.40px;top:2709.75px;font-size:14px;line-height:18px;color:#222;letter-spacing:0.4px;">30.03.2021</div>
<div class="a" style="right:497.00px;top:2709.75px;font-size:14px;line-height:18px;color:#222;letter-spacing:0.05px;margin-right:-0.05px;">4 147</div>
<div class="a" style="right:353.00px;top:2709.75px;font-size:14px;line-height:18px;color:#222;letter-spacing:0.05px;margin-right:-0.05px;">444</div>
<div class="a" style="right:225.00px;top:2709.75px;font-size:14px;line-height:18px;color:#222;letter-spacing:0.05px;margin-right:-0.05px;">10,71</div>
<div class="a" style="right:28.00px;top:2709.75px;font-size:14px;line-height:18px;color:#222;letter-spacing:0.05px;margin-right:-0.05px;">632,87</div>
<div class="a" style="left:0px;top:2734px;width:1649px;height:31px;background:#f9f9f9"></div>
<div class="a" style="left:28.40px;top:2740.75px;font-size:14px;line-height:18px;color:#222;letter-spacing:0.4px;">31.03.2021</div>
<div class="a" style="right:497.00px;top:2740.75px;font-size:14px;line-height:18px;color:#222;letter-spacing:0.05px;margin-right:-0.05px;">7 414</div>
<div class="a" style="right:353.00px;top:2740.75px;font-size:14px;line-height:18px;color:#222;letter-spacing:0.05px;margin-right:-0.05px;">605</div>
<div class="a" style="right:225.00px;top:2740.75px;font-size:14px;line-height:18px;color:#222;letter-spacing:0.05px;margin-right:-0.05px;">8,16</div>
<div class="a" style="right:28.00px;top:2740.75px;font-size:14px;line-height:18px;color:#222;letter-spacing:0.05px;margin-right:-0.05px;">1 120,94</div>
<div class="a" style="left:28.40px;top:2771.75px;font-size:14px;line-height:18px;color:#222;letter-spacing:0.4px;">01.04.2021</div>
<div class="a" style="right:497.00px;top:2771.75px;font-size:14px;line-height:18px;color:#222;letter-spacing:0.05px;margin-right:-0.05px;">11 229</div>
<div class="a" style="right:353.00px;top:2771.75px;font-size:14px;line-height:18px;color:#222;letter-spacing:0.05px;margin-right:-0.05px;">726</div>
<div class="a" style="right:225.00px;top:2771.75px;font-size:14px;line-height:18px;color:#222;letter-spacing:0.05px;margin-right:-0.05px;">6,47</div>
<div class="a" style="right:28.00px;top:2771.75px;font-size:14px;line-height:18px;color:#222;letter-spacing:0.05px;margin-right:-0.05px;">915,3</div>
<div class="a" style="left:0px;top:2796px;width:1649px;height:31px;background:#f9f9f9"></div>
<div class="a" style="left:28.40px;top:2802.75px;font-size:14px;line-height:18px;color:#222;letter-spacing:0.4px;">02.04.2021</div>
<div class="a" style="right:497.00px;top:2802.75px;font-size:14px;line-height:18px;color:#222;letter-spacing:0.05px;margin-right:-0.05px;">4 525</div>
<div class="a" style="right:353.00px;top:2802.75px;font-size:14px;line-height:18px;color:#222;letter-spacing:0.05px;margin-right:-0.05px;">475</div>
<div class="a" style="right:225.00px;top:2802.75px;font-size:14px;line-height:18px;color:#222;letter-spacing:0.05px;margin-right:-0.05px;">10,50</div>
<div class="a" style="right:28.00px;top:2802.75px;font-size:14px;line-height:18px;color:#222;letter-spacing:0.05px;margin-right:-0.05px;">481,08</div>
<div class="a" style="left:28.40px;top:2833.75px;font-size:14px;line-height:18px;color:#222;letter-spacing:0.4px;">03.04.2021</div>
<div class="a" style="right:497.00px;top:2833.75px;font-size:14px;line-height:18px;color:#222;letter-spacing:0.05px;margin-right:-0.05px;">4 271</div>
<div class="a" style="right:353.00px;top:2833.75px;font-size:14px;line-height:18px;color:#222;letter-spacing:0.05px;margin-right:-0.05px;">551</div>
<div class="a" style="right:225.00px;top:2833.75px;font-size:14px;line-height:18px;color:#222;letter-spacing:0.05px;margin-right:-0.05px;">12,90</div>
<div class="a" style="right:28.00px;top:2833.75px;font-size:14px;line-height:18px;color:#222;letter-spacing:0.05px;margin-right:-0.05px;">491,1</div>
<div class="a" style="left:0px;top:2858px;width:1649px;height:31px;background:#f9f9f9"></div>
<div class="a" style="left:28.40px;top:2864.75px;font-size:14px;line-height:18px;color:#222;letter-spacing:0.4px;">04.04.2021</div>
<div class="a" style="right:497.00px;top:2864.75px;font-size:14px;line-height:18px;color:#222;letter-spacing:0.05px;margin-right:-0.05px;">3 296</div>
<div class="a" style="right:353.00px;top:2864.75px;font-size:14px;line-height:18px;color:#222;letter-spacing:0.05px;margin-right:-0.05px;">487</div>
<div class="a" style="right:225.00px;top:2864.75px;font-size:14px;line-height:18px;color:#222;letter-spacing:0.05px;margin-right:-0.05px;">14,78</div>
<div class="a" style="right:28.00px;top:2864.75px;font-size:14px;line-height:18px;color:#222;letter-spacing:0.05px;margin-right:-0.05px;">353,93</div>
<div class="a" style="left:28.40px;top:2895.75px;font-size:14px;line-height:18px;color:#222;letter-spacing:0.4px;">05.04.2021</div>
<div class="a" style="right:497.00px;top:2895.75px;font-size:14px;line-height:18px;color:#222;letter-spacing:0.05px;margin-right:-0.05px;">2 847</div>
<div class="a" style="right:353.00px;top:2895.75px;font-size:14px;line-height:18px;color:#222;letter-spacing:0.05px;margin-right:-0.05px;">496</div>
<div class="a" style="right:225.00px;top:2895.75px;font-size:14px;line-height:18px;color:#222;letter-spacing:0.05px;margin-right:-0.05px;">17,42</div>
<div class="a" style="right:28.00px;top:2895.75px;font-size:14px;line-height:18px;color:#222;letter-spacing:0.05px;margin-right:-0.05px;">388,07</div>
<div class="a" style="left:0px;top:2920px;width:1649px;height:31px;background:#f9f9f9"></div>
<div class="a" style="left:28.40px;top:2926.75px;font-size:14px;line-height:18px;color:#222;letter-spacing:0.4px;">06.04.2021</div>
<div class="a" style="right:497.00px;top:2926.75px;font-size:14px;line-height:18px;color:#222;letter-spacing:0.05px;margin-right:-0.05px;">1 280</div>
<div class="a" style="right:353.00px;top:2926.75px;font-size:14px;line-height:18px;color:#222;letter-spacing:0.05px;margin-right:-0.05px;">186</div>
<div class="a" style="right:225.00px;top:2926.75px;font-size:14px;line-height:18px;color:#222;letter-spacing:0.05px;margin-right:-0.05px;">14,53</div>
<div class="a" style="right:28.00px;top:2926.75px;font-size:14px;line-height:18px;color:#222;letter-spacing:0.05px;margin-right:-0.05px;">237,91</div>
<div class="a" style="left:0px;top:2951px;width:1649px;height:1px;background:#e9e9e9"></div>
<div class="a" style="left:0px;top:2952px;width:1649px;height:47px;background:#f9f9f9"></div>
<div class="a" style="left:0px;top:2999px;width:1649px;height:1px;background:#e9e9e9"></div>
<div class="a" style="left:29.00px;top:2965.91px;font-size:17px;line-height:22px;color:#111;letter-spacing:1.2px;-webkit-text-stroke:0.5px #111">Всего за период:</div>
<div class="a" style="right:497.00px;top:2965.91px;font-size:17px;line-height:22px;color:#111;-webkit-text-stroke:0.35px #111">146 384</div>
<div class="a" style="right:353.00px;top:2965.91px;font-size:17px;line-height:22px;color:#111;-webkit-text-stroke:0.35px #111">17 884</div>
<div class="a" style="right:225.00px;top:2965.91px;font-size:17px;line-height:22px;color:#111;-webkit-text-stroke:0.35px #111">12,22</div>
<div class="a" style="right:28.00px;top:2965.91px;font-size:17px;line-height:22px;color:#111;-webkit-text-stroke:0.35px #111">21 794,71</div>
<svg class="a" style="left:31px;top:3027px" width="18" height="18" viewBox="3 3 18 18"><path d="M6.6 10.8 C8 13.6 10.4 16 13.2 17.4 L15.4 15.2 C15.7 14.9 16.1 14.8 16.4 15 C17.5 15.4 18.7 15.6 20 15.6 C20.6 15.6 21 16 21 16.6 V20 C21 20.6 20.6 21 20 21 C10.6 21 3 13.4 3 4 C3 3.4 3.4 3 4 3 H7.5 C8.1 3 8.5 3.4 8.5 4 C8.5 5.3 8.7 6.5 9.1 7.6 C9.2 7.9 9.1 8.3 8.9 8.6 Z" fill="#888"/></svg>
<div class="a" style="left:64.00px;top:3028.15px;font-size:14px;line-height:18px;color:#8a8a8a;">+7 (499)678-20-90</div>
<svg class="a" style="left:234px;top:3026px" width="20" height="20" viewBox="0 0 20 20"><path d="M1 1 H19 V14 H5 L1 18 Z" fill="none" stroke="#888" stroke-width="1.8" stroke-linejoin="round"/><rect x="5" y="5" width="10" height="1.6" fill="#888"/><rect x="5" y="9" width="7" height="1.6" fill="#888"/></svg>
<div class="a" style="left:268.30px;top:3028.15px;font-size:14px;line-height:18px;color:#8a8a8a;letter-spacing:0.27px;">Обратная связь</div>
<div class="a" style="right:225.00px;top:3028.15px;font-size:14px;line-height:18px;color:#8a8a8a;letter-spacing:0.38px;margin-right:-0.38px;">Пользовательское соглашение</div>
<div class="a" style="left:1478.40px;top:3028.15px;font-size:14px;line-height:18px;color:#8a8a8a;letter-spacing:0.3px;">Партнерам</div>
<div class="a" style="left:1504px;top:3011px;width:145px;height:45px;background:#4e4e4e;border-radius:22px 0 0 22px"></div>
<svg class="a" style="left:1534px;top:3027px" width="14" height="9" viewBox="0 0 14 9"><path d="M1 8 L7 2 L13 8" fill="none" stroke="#ddd" stroke-width="1.5"/></svg>
<div class="a" style="left:1569.00px;top:3022.30px;font-size:15px;line-height:20px;color:#e8e8e8;">Наверх</div>
</div>
</body></html>
